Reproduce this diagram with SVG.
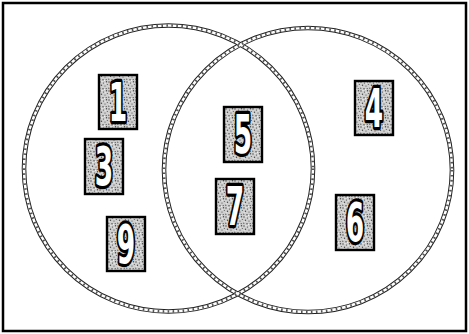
<svg xmlns="http://www.w3.org/2000/svg" width="469" height="334" viewBox="0 0 469 334">
<defs>
<pattern id="stip" width="9" height="9" patternUnits="userSpaceOnUse">
<rect width="9" height="9" fill="#cfcfcf"/>
<g fill="#444">
<circle cx="1" cy="1" r="0.7"/><circle cx="4.5" cy="2" r="0.6"/><circle cx="7.5" cy="0.8" r="0.7"/>
<circle cx="2.5" cy="4.3" r="0.7"/><circle cx="6" cy="5" r="0.6"/><circle cx="8.3" cy="3.6" r="0.5"/>
<circle cx="0.8" cy="7.2" r="0.6"/><circle cx="4" cy="7.8" r="0.7"/><circle cx="7.2" cy="7.6" r="0.6"/>
</g>
<g fill="#fff">
<circle cx="3" cy="0.5" r="0.5"/><circle cx="6.2" cy="2.8" r="0.5"/><circle cx="1.2" cy="5.8" r="0.5"/><circle cx="5.5" cy="8.5" r="0.5"/>
</g>
</pattern>
<style>
.frame{fill:#fff;stroke:#000;stroke-width:2.5}
.rope1{fill:none;stroke:#222;stroke-width:4.6}
.rope2{fill:none;stroke:#fff;stroke-width:2.6}
.rope3{fill:none;stroke:#555;stroke-width:2.6;stroke-dasharray:1.6 3.4}
.box{fill:url(#stip);stroke:#000;stroke-width:2.4}
.num{font-family:"DejaVu Sans",sans-serif;font-weight:bold;font-size:53px;fill:#fff;stroke:#000;stroke-width:6.5;paint-order:stroke;stroke-linejoin:round;text-anchor:middle}
</style>
</defs>
<rect class="frame" x="3" y="3" width="463" height="328"/>
<g id="connectors">
<ellipse class="rope1" cx="168.5" cy="168.5" rx="144.5" ry="143"/>
<ellipse class="rope1" cx="308" cy="170" rx="144" ry="142"/>
<ellipse class="rope2" cx="168.5" cy="168.5" rx="144.5" ry="143"/>
<ellipse class="rope2" cx="308" cy="170" rx="144" ry="142"/>
<ellipse class="rope3" cx="168.5" cy="168.5" rx="144.5" ry="143"/>
<ellipse class="rope3" cx="308" cy="170" rx="144" ry="142"/>
</g>
<g id="n1"><rect class="box" x="99" y="75" width="38" height="54"/><text class="num" transform="translate(118,121) scale(0.5,1)">1</text></g>
<g id="n3"><rect class="box" x="85" y="139" width="38" height="55"/><text class="num" transform="translate(104,185) scale(0.5,1)">3</text></g>
<g id="n9"><rect class="box" x="107" y="217" width="38" height="54"/><text class="num" transform="translate(126,263) scale(0.5,1)">9</text></g>
<g id="n5"><rect class="box" x="224" y="107" width="38" height="55"/><text class="num" transform="translate(243,153) scale(0.5,1)">5</text></g>
<g id="n7"><rect class="box" x="216" y="179" width="38" height="55"/><text class="num" transform="translate(235,225) scale(0.5,1)">7</text></g>
<g id="n4"><rect class="box" x="355" y="81" width="38" height="54"/><text class="num" transform="translate(374,127) scale(0.5,1)">4</text></g>
<g id="n6"><rect class="box" x="336" y="195" width="38" height="55"/><text class="num" transform="translate(355,241) scale(0.5,1)">6</text></g>
</svg>
